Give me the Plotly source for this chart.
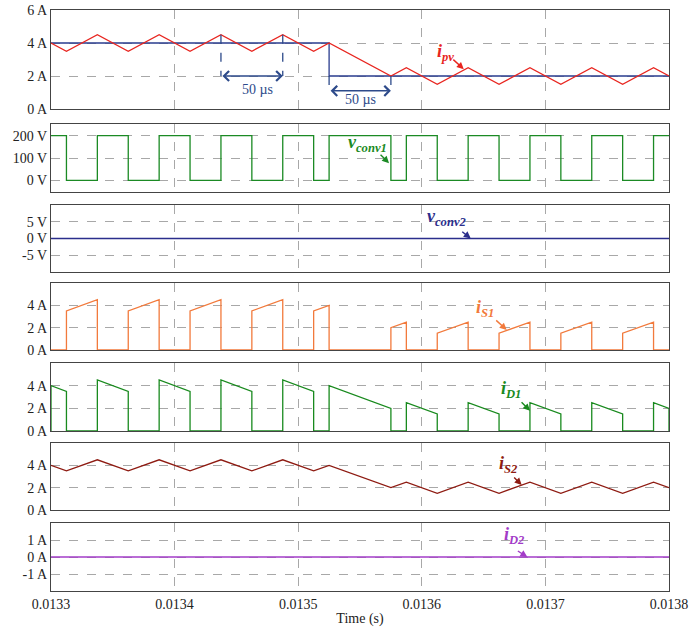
import plotly.graph_objects as go

T0 = 0.0133  # start of the time window (s)

# ---------------- data (time in microseconds after T0) ----------------
ipv_t_us = [0, 12.5, 37.5, 62.5, 87.5, 112.5, 137.5, 162.5, 187.5, 212.5, 225,
            275, 287.5, 312.5, 337.5, 362.5, 387.5, 412.5, 437.5, 462.5, 487.5, 500]
ipv_a = [4, 3.5, 4.5, 3.5, 4.5, 3.5, 4.5, 3.5, 4.5, 3.5, 4,
         2, 2.5, 1.5, 2.5, 1.5, 2.5, 1.5, 2.5, 1.5, 2.5, 2]

ref_t_us = [0, 225, 225, 500]
ref_a = [4, 4, 2, 2]

vconv1_t_us = [0, 12.5, 37.5, 62.5, 87.5, 112.5, 137.5, 162.5, 187.5, 212.5, 225,
               275, 287.5, 312.5, 337.5, 362.5, 387.5, 412.5, 437.5, 462.5, 487.5, 500]
vconv1_v = [200, 0, 200, 0, 200, 0, 200, 0, 200, 0, 200,
            0, 200, 0, 200, 0, 200, 0, 200, 0, 200, 200]

vconv2_t_us = [0, 500]
vconv2_v = [0, 0]

iS1_on_us = [12.5, 62.5, 112.5, 162.5, 212.5, 275, 312.5, 362.5, 412.5, 462.5]
iS1_off_us = [37.5, 87.5, 137.5, 187.5, 225, 287.5, 337.5, 387.5, 437.5, 487.5]
iS1_start_a = [3.5, 3.5, 3.5, 3.5, 3.5, 2, 1.5, 1.5, 1.5, 1.5]
iS1_end_a = [4.5, 4.5, 4.5, 4.5, 4, 2.5, 2.5, 2.5, 2.5, 2.5]

iD1_on_us = [0, 37.5, 87.5, 137.5, 187.5, 225, 287.5, 337.5, 387.5, 437.5, 487.5]
iD1_off_us = [12.5, 62.5, 112.5, 162.5, 212.5, 275, 312.5, 362.5, 412.5, 462.5, 500]
iD1_start_a = [4, 4.5, 4.5, 4.5, 4.5, 4, 2.5, 2.5, 2.5, 2.5, 2.5]
iD1_end_a = [3.5, 3.5, 3.5, 3.5, 3.5, 2, 1.5, 1.5, 1.5, 1.5, 2]

iS2_t_us = [0, 12.5, 37.5, 62.5, 87.5, 112.5, 137.5, 162.5, 187.5, 212.5, 225,
            275, 287.5, 312.5, 337.5, 362.5, 387.5, 412.5, 437.5, 462.5, 487.5, 500]
iS2_a = [4, 3.5, 4.5, 3.5, 4.5, 3.5, 4.5, 3.5, 4.5, 3.5, 4,
         2, 2.5, 1.5, 2.5, 1.5, 2.5, 1.5, 2.5, 1.5, 2.5, 2]

iD2_t_us = [0, 500]
iD2_a = [0, 0]

x_tick_vals = [0.0133, 0.0134, 0.0135, 0.0136, 0.0137, 0.0138]
x_tick_text = ["0.0133", "0.0134", "0.0135", "0.0136", "0.0137", "0.0138"]


def tsec(us_list):
    return [round(T0 + u * 1e-6, 10) for u in us_list]


def pulses(on, off, start, end):
    xs, ys = [0], [0]
    for a, b, s, e in zip(on, off, start, end):
        xs += [a, a, b, b]
        ys += [0, s, e, 0]
    xs.append(500)
    ys.append(0)
    return xs, ys


FONT = "Liberation Serif"
NAVY = "#2D4A8A"

fig = go.Figure()

def add(xus, y, color, n, width=1.3, shape="linear"):
    fig.add_trace(go.Scatter(x=tsec(xus), y=y, mode="lines",
                             line=dict(color=color, width=width, shape=shape),
                             xaxis="x" if n == 1 else f"x{n}",
                             yaxis="y" if n == 1 else f"y{n}",
                             showlegend=False, hoverinfo="skip"))

add(ref_t_us, ref_a, "#2A3C8E", 1)
add(ipv_t_us, ipv_a, "#E8251F", 1)
add(vconv1_t_us, vconv1_v, "#1B8A24", 2, shape="hv")
add(vconv2_t_us, vconv2_v, "#2B2E8C", 3, width=1.6)
xs, ys = pulses(iS1_on_us, iS1_off_us, iS1_start_a, iS1_end_a)
add(xs, ys, "#F27A3C", 4)
xs, ys = pulses(iD1_on_us, iD1_off_us, iD1_start_a, iD1_end_a)
add(xs, ys, "#198A1E", 5)
add(iS2_t_us, iS2_a, "#8E1B12", 6)
add(iD2_t_us, iD2_a, "#A33CC8", 7, width=1.6)

domains = [
    [0.8296, 1.0],
    [0.6867, 0.8038],
    [0.5491, 0.6644],
    [0.4148, 0.5301],
    [0.2754, 0.3924],
    [0.1394, 0.2547],
    [0.0, 0.1170],
]
yranges = [[0, 6], [-52, 252], [-10, 10], [0, 6], [0, 6], [0, 6], [-2, 2]]
yticks = [
    ([0, 2, 4, 6], ["0 A", "2 A", "4 A", "6 A"]),
    ([0, 100, 200], ["0 V", "100 V", "200 V"]),
    ([-5, 0, 5], ["-5 V", "0 V", "5 V"]),
    ([0, 2, 4], ["0 A", "2 A", "4 A"]),
    ([0, 2, 4], ["0 A", "2 A", "4 A"]),
    ([0, 2, 4], ["0 A", "2 A", "4 A"]),
    ([-1, 0, 1], ["-1 A", "0 A", "1 A"]),
]

layout = dict(
    width=693, height=632,
    margin=dict(l=51, r=24, t=10, b=41),
    paper_bgcolor="white", plot_bgcolor="white",
    font=dict(family=FONT, size=14, color="#222"),
    showlegend=False,
)
for i in range(7):
    n = i + 1
    xk = "xaxis" if n == 1 else f"xaxis{n}"
    yk = "yaxis" if n == 1 else f"yaxis{n}"
    ax = dict(
        domain=[0, 1], anchor="y" if n == 1 else f"y{n}",
        range=[0.0133, 0.0138], tickvals=x_tick_vals, ticktext=x_tick_text,
        showgrid=True, gridcolor="#A8A8A8", griddash="dash", gridwidth=1,
        showline=True, mirror=True, linecolor="#444", linewidth=1.3,
        zeroline=False, ticks="", showticklabels=(n == 7), automargin=False,
        ticklabeloverflow="allow",
        tickfont=dict(family=FONT, size=14, color="#222"),
    )
    if n != 1:
        ax["matches"] = "x"
    if n == 7:
        ax["title"] = dict(text="Time (s)", font=dict(family=FONT, size=14, color="#222"), standoff=2)
    layout[xk] = ax
    layout[yk] = dict(
        domain=domains[i], anchor="x" if n == 1 else f"x{n}",
        range=yranges[i], tickvals=yticks[i][0], ticktext=yticks[i][1],
        showgrid=True, gridcolor="#A8A8A8", griddash="dash", gridwidth=1,
        showline=True, mirror=True, linecolor="#444", linewidth=1.3,
        zeroline=False, ticks="", automargin=False, ticklabeloverflow="allow",
        tickfont=dict(family=FONT, size=14, color="#222"),
    )
fig.update_layout(**layout)

# ---- measurement marks in the top panel ----
def T(u):
    return T0 + u * 1e-6

shapes = []
for u, y0, y1 in [(137.5, 4.5, 2.0), (187.5, 4.5, 2.0), (225, 2.0, 1.0), (275, 2.0, 1.0)]:
    shapes.append(dict(type="line", xref="x", yref="y", x0=T(u), x1=T(u), y0=y0, y1=y1,
                       line=dict(color=NAVY, width=1.3, dash="dash")))
fig.update_layout(shapes=shapes)

ann = []
for a, b, y in [(137.5, 187.5, 2.0), (225, 275, 1.1)]:
    ann.append(dict(x=T(b), y=y, ax=T(a), ay=y, xref="x", yref="y", axref="x", ayref="y",
                    text="", showarrow=True, arrowside="end+start", arrowhead=4,
                    arrowsize=1.3, arrowwidth=1.5, arrowcolor=NAVY))
ann.append(dict(x=T(167), y=1.2, xref="x", yref="y", text="50 µs", showarrow=False,
                font=dict(family=FONT, size=14, color=NAVY)))
ann.append(dict(x=T(250.5), y=0.55, xref="x", yref="y", text="50 µs", showarrow=False,
                font=dict(family=FONT, size=14, color=NAVY)))

# ---- signal labels with arrows ----
labels = [
    # (panel, text, color, tip_us, tip_y, arrow dx, arrow dy, text dx, text dy)
    (1, "<b><i>i<sub>pv</sub></i></b>", "#E8251F", 334.0, 2.41, -12, -11, -18, -17),
    (2, "<b><i>v<sub>conv1</sub></i></b>", "#1B8A24", 273.5, 77.0, -10, -10, -22, -20),
    (3, "<b><i>v<sub>conv2</sub></i></b>", "#2B2E8C", 339.6, 0.0, -10, -8, -24, -21),
    (4, "<b><i>i<sub>S1</sub></i></b>", "#F27A3C", 368.7, 1.79, -12, -11, -22, -22),
    (5, "<b><i>i<sub>D1</sub></i></b>", "#198A1E", 387.6, 1.78, -10, -10, -19, -21),
    (6, "<b><i>i<sub>S2</sub></i></b>", "#8E1B12", 380.8, 2.24, -9, -9, -13, -20),
    (7, "<b><i>i<sub>D2</sub></i></b>", "#A33CC8", 385.4, 0.0, -11, -7, -13, -22),
]
for n, txt, col, tu, ty, adx, ady, tdx, tdy in labels:
    xr = "x" if n == 1 else f"x{n}"
    yr = "y" if n == 1 else f"y{n}"
    ann.append(dict(x=T(tu), y=ty, xref=xr, yref=yr, text="", showarrow=True,
                    ax=adx, ay=ady, arrowhead=2, arrowsize=1, arrowwidth=1.4, arrowcolor=col))
    ann.append(dict(x=T(tu), y=ty, xref=xr, yref=yr, text=txt, showarrow=False,
                    xshift=tdx, yshift=-tdy, font=dict(family=FONT, size=18, color=col)))
fig.update_layout(annotations=ann)

fig.write_html("out.html", config={"displayModeBar": False},
               post_script="document.body.style.margin='0';")
